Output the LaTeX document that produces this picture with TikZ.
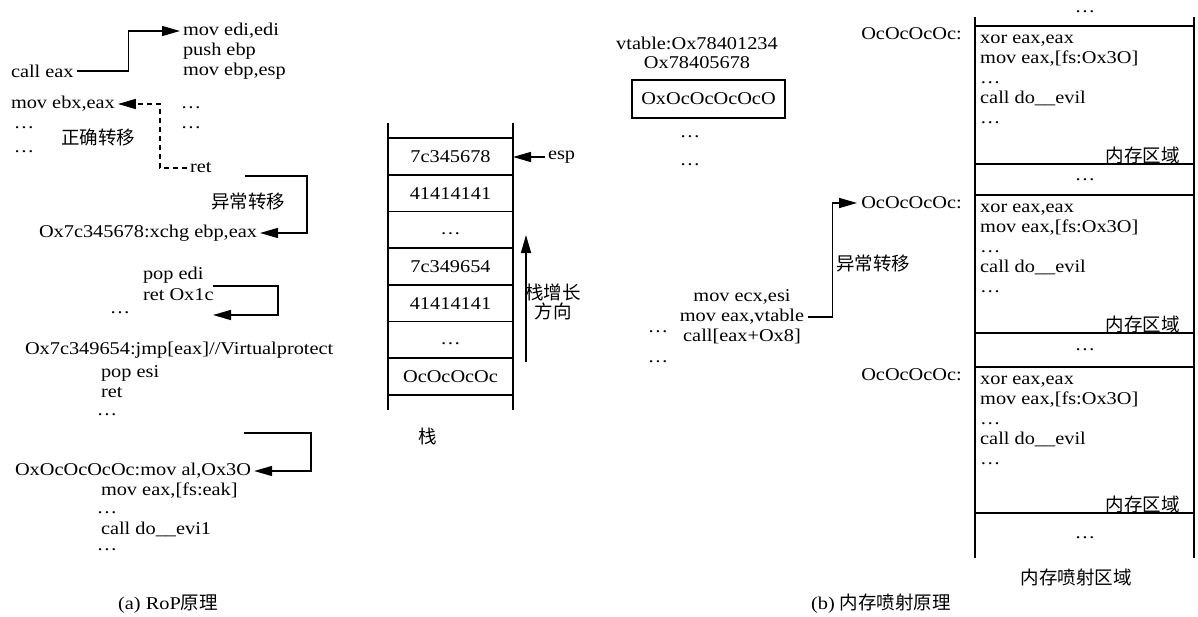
\documentclass[tikz,border=0pt]{standalone}
\usepackage{fontspec}
\setmainfont{Liberation Serif}[FakeStretch=1.13]
\newfontfamily\cjk{Noto Sans CJK SC}
\newcommand\zh[1]{{\cjk\fontsize{18.5}{20}\selectfont #1}}
\usetikzlibrary{arrows.meta,positioning}

\begin{document}
\begin{tikzpicture}[x=1pt,y=-1pt,font=\fontsize{18}{20}\selectfont,
  code/.style={anchor=west,inner sep=0pt,outer sep=3pt},
  mid/.style={inner sep=0pt},
  link/.style={line width=1.5pt,-{Triangle[length=18pt,width=10pt]}},
  back/.style={link,dash pattern=on 5pt off 4pt},
  wall/.style={line width=1.6pt}]
  \useasboundingbox (0,0) rectangle (1198,616);

  % (a) RoP
  \node[code] (calleax) at (8,71) {call eax};
  \node[code] (movedi) at (180,31) {mov edi,edi};
  \node[code] (pushebp) at (180,51) {push ebp};
  \node[code] (movebp) at (180,71) {mov ebp,esp};
  \node[mid] (fd1) at (191,108) {\dots};
  \node[mid] (fd2) at (191,128) {\dots};
  \node[code] (ret) at (187,168) {ret};
  \node[code] (movebx) at (8,104) {mov ebx,eax};
  \node[mid] (cd1) at (24,128) {\dots};
  \node[mid] (cd2) at (24,152) {\dots};
  \node[mid] (okmove) at (98,137) {\zh{正确转移}};
  \draw[link] (calleax.east) -- ++(52,0) |- (movedi.west);
  \draw[back] (ret.west) -- ++(-27,0) |- (movebx.east);

  \node[mid] (badmove) at (248,201) {\zh{异常转移}};
  \node[code] (xchg) at (36,233) {Ox7c345678:xchg ebp,eax};
  \coordinate (retout) at (245,176);
  \draw[link] (retout) -- ++(62,0) |- (xchg.east);

  \node[code] (popedi) at (140,275) {pop edi};
  \node[code] (ret1c) at (140,295) {ret Ox1c};
  \node[mid] (gd1) at (120,313) {\dots};
  \coordinate (loopout) at (213,286);
  \coordinate (loopin) at (213,315);
  \draw[link] (loopout) -- ++(65,0) |- (loopin);

  \node[code] (jmp) at (22,350) {Ox7c349654:jmp[eax]//Virtualprotect};
  \node[code] (popesi) at (98,373) {pop esi};
  \node[code] (retesi) at (98,393) {ret};
  \node[mid] (gd2) at (107,415) {\dots};
  \coordinate (retout2) at (244,433);
  \node[code] (shell) at (12,471) {OxOcOcOcOc:mov al,Ox3O};
  \draw[link] (retout2) -- ++(67,0) |- (shell.east);
  \node[code] (movfs) at (98,491) {mov eax,[fs:eak]};
  \node[mid] (sd1) at (107,513) {\dots};
  \node[code] (evil1) at (98,529) {call do\_\_evi1};
  \node[mid] (sd2) at (107,550) {\dots};

  % stack
  \draw[wall] (388,123) -- (388,410);
  \draw[wall] (513,123) -- (513,410);
  \foreach \i in {0,...,7}
    \draw[wall] (388,138+36.7*\i) -- (513,138+36.7*\i);
  \foreach \i/\v in {0/7c345678,1/41414141,3/7c349654,4/41414141,6/OcOcOcOc}
    \node[mid] (s\i) at (450.5,156.5+36.7*\i) {\v};
  \foreach \i in {2,5}
    \node[mid] (s\i) at (450.5,160+36.7*\i) {\dots};
  \node[code] (esp) at (545,157) {esp};
  \coordinate (sp) at (513,157);
  \draw[link] (esp.west) -- (sp);
  \coordinate (gbot) at (526,362);
  \coordinate (gtop) at (526,235);
  \draw[link] (gbot) -- (gtop);
  \node[mid,align=center] (grow) at (553,302) {\zh{栈增长}\\[-1pt]\zh{方向}};
  \node[mid] (stack) at (428,436) {\zh{栈}};

  \node[mid] (capa) at (168,604) {(a) RoP\zh{原理}};

  % (b) heap spray
  \node[mid] (vt) at (697,43) {vtable:Ox78401234};
  \node[mid] (vt2) at (697,63) {Ox78405678};
  \node[draw,line width=1.4pt,minimum width=153pt,minimum height=38pt] (obj) at (708.5,99) {OxOcOcOcOcO};
  \node[mid] (od1) at (690,137) {\dots};
  \node[mid] (od2) at (690,165) {\dots};
  \node[mid,align=center] (vcall) at (742,317) {mov ecx,esi\\mov eax,vtable\\call[eax+Ox8]};
  \node[mid] (vd1) at (658,332) {\dots};
  \node[mid] (vd2) at (658,362) {\dots};
  \node[mid] (badmove2) at (873,263) {\zh{异常转移}};

  \draw[wall] (975,17) -- (975,558);
  \draw[wall] (1194,17) -- (1194,558);
  \foreach \t/\b/\n in {26/164/1,195/333/2,367/513/3} {
    \draw[wall] (975,\t) -- (1194,\t);
    \draw[wall] (975,\b) -- (1194,\b);
    \node[anchor=east,inner sep=0pt] (oc\n) at (962,\t+8) {OcOcOcOc:};
    \node[anchor=north west,align=left,inner sep=0pt] (blk\n) at (980,\t+9)
      {xor eax,eax\\mov eax,[fs:Ox3O]\\\dots\\call do\_\_evil\\\dots};
    \node[anchor=east,inner sep=0pt] (mem\n) at (1180,\b-9) {\zh{内存区域}};
  }
  \foreach \y/\n in {12/0,180/1,350/2,538/3}
    \node[mid] (gap\n) at (1085,\y) {\dots};
  \draw[link] (vcall.east) ++(4,0) -- ++(24,0) |- ([xshift=-4pt]oc2.west);
  \node[mid] (spray) at (1076,577) {\zh{内存喷射区域}};

  \node[mid] (capb) at (881,604) {(b) \zh{内存喷射原理}};
\end{tikzpicture}
\end{document}
